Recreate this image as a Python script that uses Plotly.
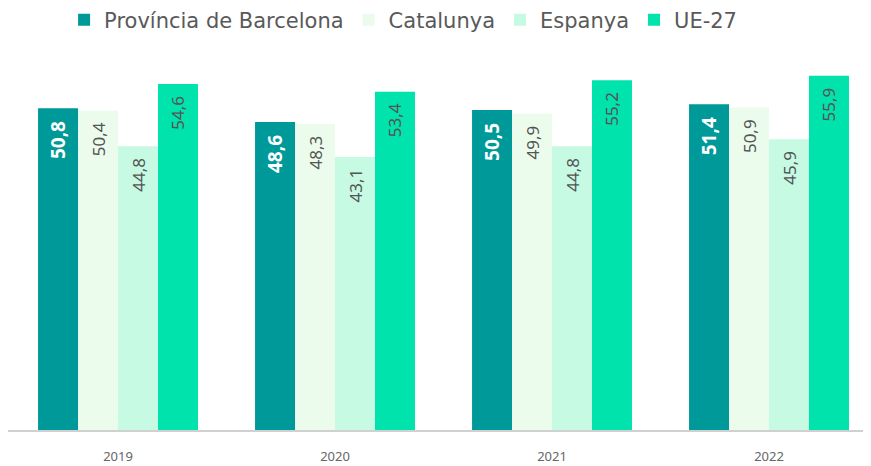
import plotly.graph_objects as go

years = ["2019", "2020", "2021", "2022"]
series_names = ["Província de Barcelona", "Catalunya", "Espanya", "UE-27"]
barcelona = [50.8, 48.6, 50.5, 51.4]
catalunya = [50.4, 48.3, 49.9, 50.9]
espanya = [44.8, 43.1, 44.8, 45.9]
ue27 = [54.6, 53.4, 55.2, 55.9]

colors = ["#009999", "#EBFCEC", "#C6FAE3", "#00E3AC"]
all_values = [barcelona, catalunya, espanya, ue27]

PAD = "\u00a0\u00a0"

fig = go.Figure()
for i, (name, vals, col) in enumerate(zip(series_names, all_values, colors)):
    labels = [f"{v:.1f}".replace(".", ",") + PAD for v in vals]
    bold = i == 0
    fig.add_trace(go.Bar(
        x=years, y=vals, name=name,
        marker=dict(color=col, line=dict(width=0)),
        text=labels,
        textposition="inside",
        insidetextanchor="end",
        textangle=-90,
        textfont=dict(
            family="Noto Sans",
            size=19 if bold else 17,
            color="#FFFFFF" if bold else "#555555",
            weight="bold" if bold else "normal",
        ),
        cliponaxis=False,
    ))

fig.update_layout(
    width=863, height=458,
    margin=dict(l=0, r=0, t=52, b=36, autoexpand=False),
    paper_bgcolor="white",
    plot_bgcolor="white",
    barmode="group",
    bargap=0.263,
    bargroupgap=0,
    showlegend=True,
    uniformtext=dict(mode=False),
    legend=dict(
        orientation="h",
        x=0.065, xanchor="left",
        y=1.108, yanchor="middle",
        font=dict(family="DejaVu Sans", size=21, color="#595959"),
        itemwidth=30,
        traceorder="normal",
        bgcolor="rgba(0,0,0,0)",
    ),
    xaxis=dict(
        type="category",
        range=[-0.507, 3.47],
        showline=True, linecolor="#D0D0D0", linewidth=1.5,
        showgrid=False, ticks="",
        tickfont=dict(family="Noto Sans", size=13, color="#666666"),
        ticklabelstandoff=14,
    ),
    yaxis=dict(
        range=[0, 58.4],
        visible=False,
        showgrid=False, zeroline=False,
    ),
)

fig.write_html("out.html")
